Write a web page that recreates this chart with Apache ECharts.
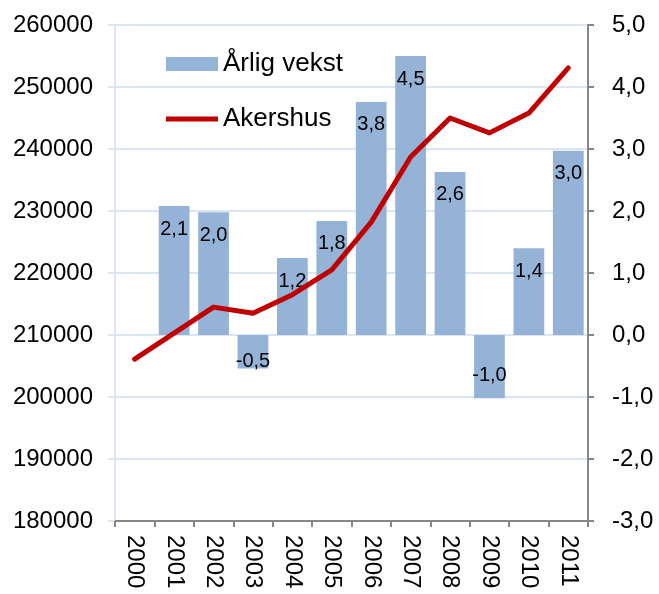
<!DOCTYPE html>
<html>
<head>
<meta charset="utf-8">
<script src="https://cdn.jsdelivr.net/npm/echarts@6/dist/echarts.min.js"></script>
<style>
html, body { margin: 0; padding: 0; background: #ffffff; }
#chart { width: 659px; height: 594px; }
</style>
</head>
<body>
<div id="chart"></div>
<script>
// kategorier og verdier
const years = ["2000", "2001", "2002", "2003", "2004", "2005", "2006", "2007", "2008", "2009", "2010", "2011"]
const vekst = [null, 2.08, 1.98, -0.54, 1.24, 1.84, 3.76, 4.5, 2.63, -1.02, 1.4, 2.97]
const akershus = [206100, 210300, 214500, 213500, 216500, 220500, 228200, 238700, 245000, 242600, 245800, 253100]

const font = "'Liberation Sans', Arial, sans-serif"
const myChart = echarts.init(document.getElementById("chart"))

const option = {
	animation: false,
	textStyle: { fontFamily: font },
	legend: {
		orient: "vertical",
		left: 161,
		top: 46,
		itemWidth: 52,
		itemHeight: 14,
		itemGap: 29,
		textStyle: { fontSize: 26, color: "#000000", fontFamily: font },
		data: [
			{ name: "Årlig vekst", icon: "rect" },
			{ name: "Akershus", icon: "path://M0,0 L52,0 L52,5 L0,5 Z" },
		],
	},
	grid: { left: 115, right: 71, top: 25, bottom: 73 },
	xAxis: {
		type: "category",
		data: years,
		axisLine: { onZero: false, lineStyle: { color: "#868686", width: 2 } },
		axisTick: { show: true, length: 6, lineStyle: { color: "#868686", width: 2 } },
		axisLabel: { rotate: -90, fontSize: 24, color: "#000000", margin: 14, fontFamily: font },
	},
	yAxis: [
		{
			type: "value",
			min: 180000,
			max: 260000,
			interval: 10000,
			axisLine: { show: true, lineStyle: { color: "#DCE6F2", width: 2 } },
			axisTick: { show: true, length: 7, lineStyle: { color: "#DCE6F2", width: 2 } },
			splitLine: { lineStyle: { color: "#DCE6F2", width: 2 } },
			axisLabel: {
				fontSize: 24,
				color: "#000000",
				margin: 22,
				fontFamily: font,
				formatter: (v) => String(v),
			},
		},
		{
			type: "value",
			min: -3,
			max: 5,
			interval: 1,
			axisLine: { show: true, lineStyle: { color: "#868686", width: 2 } },
			axisTick: { show: true, length: 6, lineStyle: { color: "#868686", width: 2 } },
			splitLine: { show: false },
			axisLabel: {
				fontSize: 24,
				color: "#000000",
				margin: 24,
				fontFamily: font,
				formatter: (v) => v.toFixed(1).replace(".", ","),
			},
		},
	],
	series: [
		{
			name: "Årlig vekst",
			type: "bar",
			yAxisIndex: 1,
			barCategoryGap: "22%",
			itemStyle: { color: "#95B3D7" },
			data: vekst.map((v) => ({
				value: v,
				label: {
					show: v !== null,
					position: v < 0 ? "insideBottom" : "insideTop",
					distance: v < 0 && v > -1 ? -3 : 13,
					fontSize: 20,
					color: "#000000",
					fontFamily: font,
					formatter: (p) => p.value.toFixed(1).replace(".", ","),
				},
			})),
		},
		{
			name: "Akershus",
			type: "line",
			yAxisIndex: 0,
			symbol: "none",
			lineStyle: { color: "#C00000", width: 5, cap: "round", join: "round" },
			itemStyle: { color: "#C00000" },
			data: akershus,
		},
	],
}

myChart.setOption(option)
</script>
</body>
</html>
